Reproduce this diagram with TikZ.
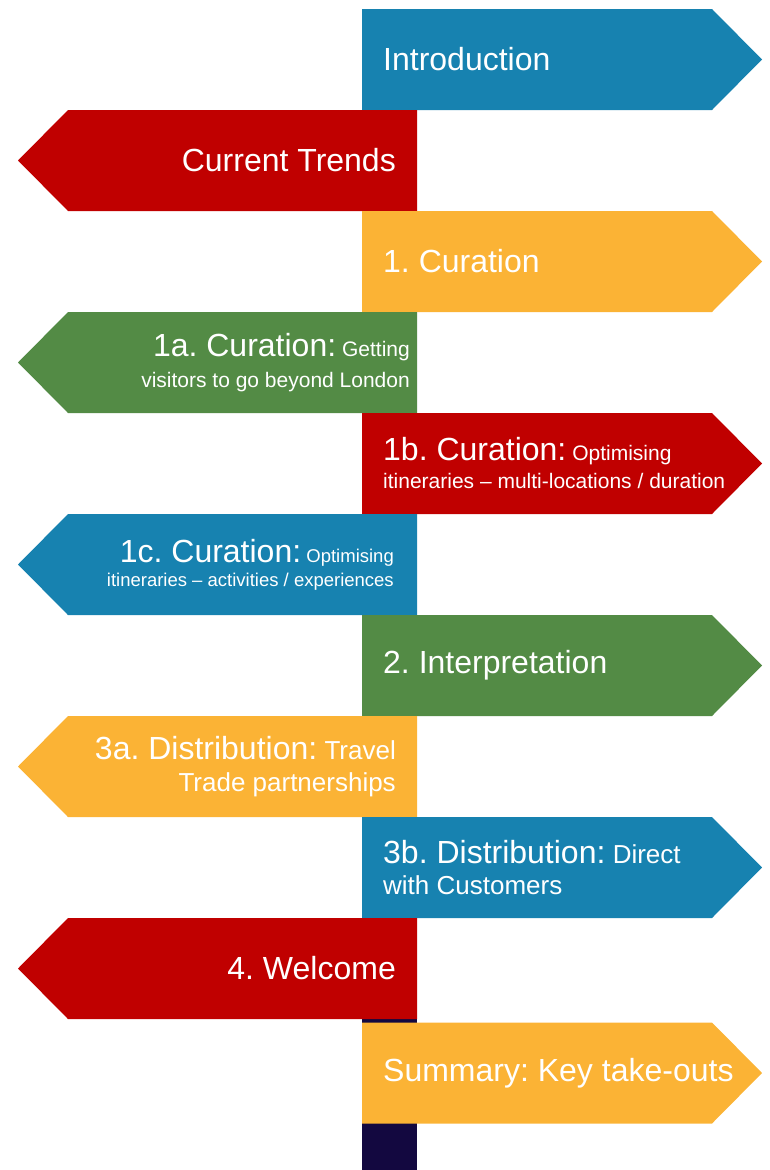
\documentclass[tikz,border=0pt]{standalone}
\usepackage{fontspec}
\setmainfont{Liberation Sans}
\frenchspacing
\definecolor{signblue}{HTML}{1782B0}
\definecolor{signred}{HTML}{C00000}
\definecolor{signorange}{HTML}{FBB335}
\definecolor{signgreen}{HTML}{538B45}
\definecolor{postnavy}{HTML}{130840}
\newcommand{\bigsize}{\fontsize{32}{36}\selectfont}
\tikzset{
	rightsign/.pic={\fill[#1] (0,-50.5) -- (350,-50.5) -- (400,0) -- (350,50.5) -- (0,50.5) -- cycle;},
	leftsign/.pic={\fill[#1] (0,-50.5) -- (-349,-50.5) -- (-399,0) -- (-349,50.5) -- (0,50.5) -- cycle;}
}
\begin{document}
\begin{tikzpicture}[x=1pt,y=-1pt]
	\tikzstyle{righttext}=[anchor=west, align=left, text=white, inner sep=0pt, font=\bigsize]
	\tikzstyle{lefttext}=[anchor=east, align=right, text=white, inner sep=0pt, font=\bigsize]
	\useasboundingbox (0,0) rectangle (769,1170);
	% the post
	\fill[postnavy] (362,9) rectangle (417,1170);
	% the signs
	\pic (intro) at (362,59.5) {rightsign=signblue};
	\pic (trends) at (417,160.5) {leftsign=signred};
	\pic (cur) at (362,261.5) {rightsign=signorange};
	\pic (cura) at (417,362.5) {leftsign=signgreen};
	\pic (curb) at (362,463.5) {rightsign=signred};
	\pic (curc) at (417,564.5) {leftsign=signblue};
	\pic (interp) at (362,665.5) {rightsign=signgreen};
	\pic (dista) at (417,766.5) {leftsign=signorange};
	\pic (distb) at (362,867.5) {rightsign=signblue};
	\pic (welcome) at (417,968.5) {leftsign=signred};
	\pic (summ) at (362,1073) {rightsign=signorange};
	% the texts
	\node [righttext] (introtxt) at (383,59.5) {Introduction};
	\node [lefttext] (trendstxt) at (396,160.5) {Current Trends};
	\node [righttext] (curtxt) at (383,261.5) {1. Curation};
	\node [lefttext, font=\fontsize{21}{31}\selectfont] (curatxt) at (410,362.5) {{\bigsize 1a. Curation:} Getting\\visitors to go beyond London};
	\node [righttext, font=\fontsize{21}{28}\selectfont] (curbtxt) at (383,463.5) {{\bigsize 1b. Curation:} Optimising\\itineraries -- multi-locations / duration};
	\node [lefttext, font=\fontsize{18.5}{24}\selectfont] (curctxt) at (394,564.5) {{\bigsize 1c. Curation:} Optimising\\itineraries -- activities / experiences};
	\node [righttext] (interptxt) at (383,665.5) {2. Interpretation};
	\node [lefttext, font=\fontsize{26}{32}\selectfont] (distatxt) at (396,766.5) {{\bigsize 3a. Distribution:} Travel\\Trade partnerships};
	\node [righttext, font=\fontsize{26}{31}\selectfont] (distbtxt) at (383,867.5) {{\bigsize 3b. Distribution:} Direct\\with Customers};
	\node [lefttext] (welcometxt) at (396,968.5) {4. Welcome};
	\node [righttext] (summtxt) at (383,1073) {Summary: Key take-outs};
\end{tikzpicture}
\end{document}
